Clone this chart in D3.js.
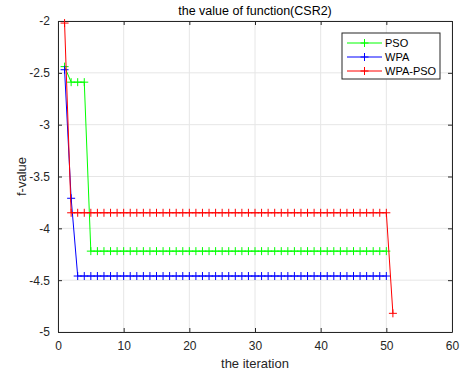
<!DOCTYPE html>
<html>
<head>
<meta charset="utf-8">
<script src="https://cdn.jsdelivr.net/npm/d3@7"></script>
<style>
body { margin: 0; background: #fff; }
text { font-family: "Liberation Sans", Arial, sans-serif; }
</style>
</head>
<body>
<div id="chart"></div>
<script>
// iteration 1..51
const psoVals = [-2.44, -2.59, -2.59, -2.59].concat(Array(46).fill(-4.22));
const wpaVals = [-2.47, -3.71].concat(Array(48).fill(-4.46));
const hybridVals = [-2.02].concat(Array(49).fill(-3.85), [-4.82]);
const xTicks = [0, 10, 20, 30, 40, 50, 60];
const yTicks = [-2, -2.5, -3, -3.5, -4, -4.5, -5];
const seriesNames = ["PSO", "WPA", "WPA-PSO"];
const seriesColors = ["#00ff00", "#0000ff", "#ff0000"];

let W = 464, H = 374;
let margin = { top: 21, right: 12, bottom: 42, left: 58 };
let width = W - margin.left - margin.right;
let height = H - margin.top - margin.bottom;

let svg = d3.select("#chart").append("svg")
    .attr("width", W).attr("height", H)
    .append("g")
    .attr("transform", "translate(" + margin.left + "," + margin.top + ")");

let x = d3.scaleLinear().domain([0, 60]).range([0, width]);
let y = d3.scaleLinear().domain([-5, -2]).range([height, 0]);

// grid
svg.append("g").selectAll("line").data(xTicks).enter().append("line")
    .attr("x1", d => x(d)).attr("x2", d => x(d)).attr("y1", 0).attr("y2", height)
    .attr("stroke", "#e6e6e6");
svg.append("g").selectAll("line").data(yTicks).enter().append("line")
    .attr("y1", d => y(d)).attr("y2", d => y(d)).attr("x1", 0).attr("x2", width)
    .attr("stroke", "#e6e6e6");

// axes
svg.append("g").attr("transform", "translate(0," + height + ")")
    .call(d3.axisBottom(x).tickValues(xTicks).tickSizeInner(-4).tickSizeOuter(0).tickPadding(9));
svg.append("g")
    .call(d3.axisLeft(y).tickValues(yTicks).tickFormat(d => String(d)).tickSizeInner(-4).tickSizeOuter(0).tickPadding(8));
svg.append("g").call(d3.axisTop(x).tickValues(xTicks).tickSizeInner(-4).tickSizeOuter(0).tickFormat(""));
svg.append("g").attr("transform", "translate(" + width + ",0)")
    .call(d3.axisRight(y).tickValues(yTicks).tickSizeInner(-4).tickSizeOuter(0).tickFormat(""));
svg.selectAll(".domain").attr("stroke", "#262626");
svg.selectAll(".tick line").attr("stroke", "#262626");
svg.selectAll(".tick text").attr("fill", "#262626").style("font-size", "12px")
    .style("font-family", "'Liberation Sans', Arial, sans-serif");

// series
let allSeries = [psoVals, wpaVals, hybridVals];
let line = d3.line().x((d, i) => x(i + 1)).y(d => y(d));
allSeries.forEach((vals, k) => {
    svg.append("path").datum(vals)
        .attr("fill", "none").attr("stroke", seriesColors[k]).attr("stroke-width", 1)
        .attr("d", line);
    let g = svg.append("g");
    vals.forEach((v, i) => {
        let cx = x(i + 1), cy = y(v);
        g.append("path")
            .attr("d", "M" + (cx - 4) + "," + cy + "H" + (cx + 4) + "M" + cx + "," + (cy - 4) + "V" + (cy + 4))
            .attr("stroke", seriesColors[k]).attr("stroke-width", 1);
    });
});

// labels
svg.append("text").attr("x", width / 2).attr("y", -6).attr("text-anchor", "middle")
    .style("font-size", "12.5px").attr("fill", "#000").text("the value of function(CSR2)");
svg.append("text").attr("x", width / 2).attr("y", height + 36).attr("text-anchor", "middle")
    .style("font-size", "13px").attr("fill", "#262626").text("the iteration");
svg.append("text").attr("transform", "translate(-32," + (height / 2) + ") rotate(-90)")
    .attr("text-anchor", "middle").style("font-size", "13px").attr("fill", "#262626").text("f-value");

// legend
let lg = svg.append("g").attr("transform", "translate(" + (342 - margin.left) + "," + (33 - margin.top) + ")");
lg.append("rect").attr("width", 98).attr("height", 46).attr("fill", "#fff").attr("stroke", "#262626");
seriesNames.forEach((name, k) => {
    let yy = 10 + k * 14;
    lg.append("line").attr("x1", 5).attr("x2", 40).attr("y1", yy).attr("y2", yy)
        .attr("stroke", seriesColors[k]);
    lg.append("path").attr("d", "M18.5," + yy + "H26.5M22.5," + (yy - 4) + "V" + (yy + 4))
        .attr("stroke", seriesColors[k]);
    lg.append("text").attr("x", 43).attr("y", yy + 4).style("font-size", "11px")
        .attr("fill", "#000").text(name);
});
</script>
</body>
</html>
